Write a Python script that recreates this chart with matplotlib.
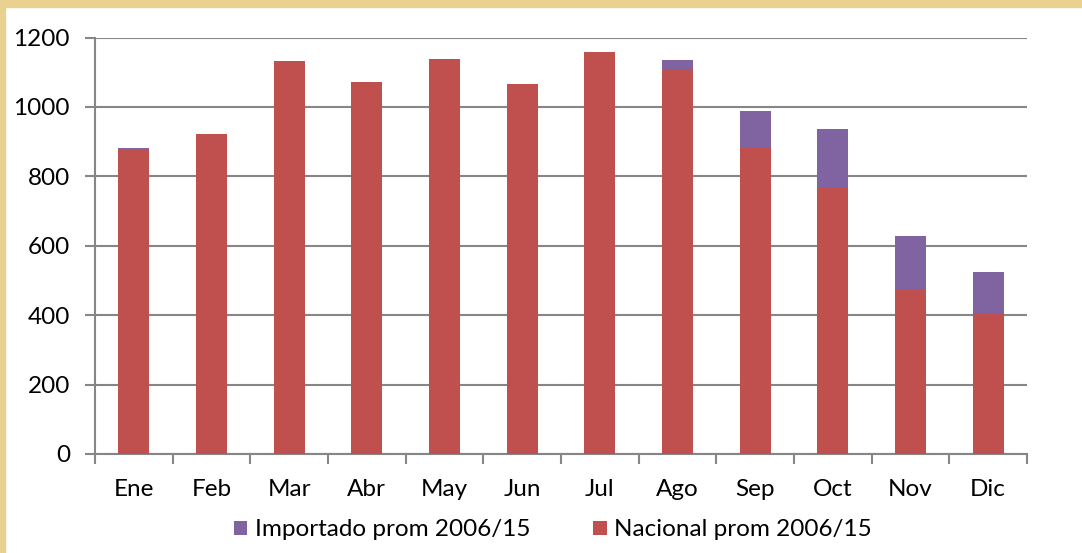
import matplotlib
matplotlib.use("Agg")
import matplotlib.pyplot as plt
from matplotlib.patches import Rectangle
import numpy as np

months = ["Ene", "Feb", "Mar", "Abr", "May", "Jun", "Jul", "Ago", "Sep", "Oct", "Nov", "Dic"]
nacional = [877, 923, 1131, 1073, 1139, 1067, 1159, 1108, 885, 770, 474, 406]
importado = [5, 0, 0, 0, 0, 0, 0, 28, 104, 165, 155, 119]
yticks = [0, 200, 400, 600, 800, 1000, 1200]

red = "#C0504D"
purple = "#8064A2"
grid = "#868686"

plt.rcParams['font.family'] = ['Lato', 'DejaVu Sans']

fig = plt.figure(figsize=(10.82, 5.53), dpi=100)
fig.patch.set_facecolor("white")
ax = fig.add_axes([95/1082, 1-454/553, (1027-95)/1082, (454-37.5)/553])

x = np.arange(len(months))
w = 0.4
b1 = ax.bar(x, nacional, w, color=red, label="Nacional prom 2006/15", zorder=3)
b2 = ax.bar(x, importado, w, bottom=nacional, color=purple, label="Importado prom 2006/15", zorder=3)

ax.set_xlim(-0.5, len(months) - 0.5)
ax.set_ylim(0, 1200)
ax.set_yticks(yticks)
ax.set_yticklabels([str(v) for v in yticks])
ax.yaxis.grid(True, color=grid, linewidth=1.5, zorder=0)
ax.set_axisbelow(True)

fs = 17.5
ax.set_xticks(x)
ax.set_xticklabels(months)
ax.set_xticks(np.arange(-0.5, len(months)), minor=True)
ax.tick_params(axis="x", which="major", length=0, pad=18, labelsize=fs)
ax.tick_params(axis="x", which="minor", length=7, width=1.5, color=grid)
ax.tick_params(axis="y", which="major", length=7, width=1.5, color=grid, pad=11, labelsize=fs)

for s in ["top", "right"]:
    ax.spines[s].set_visible(False)
for s in ["left", "bottom"]:
    ax.spines[s].set_color(grid)
    ax.spines[s].set_linewidth(1.5)

leg = fig.legend(handles=[b2, b1], loc="center", bbox_to_anchor=(553/1082, 1-530/553),
                 ncol=2, frameon=False, fontsize=fs, handlelength=0.55, handleheight=0.55,
                 handletextpad=0.3, columnspacing=2.6)

border = "#E9D28F"
fig.patches.append(Rectangle((0, 1-7/553), 1, 7/553, transform=fig.transFigure, color=border, zorder=10))
fig.patches.append(Rectangle((0, 0), 5/1082, 1, transform=fig.transFigure, color=border, zorder=10))

fig.savefig("out.png", dpi=100)
